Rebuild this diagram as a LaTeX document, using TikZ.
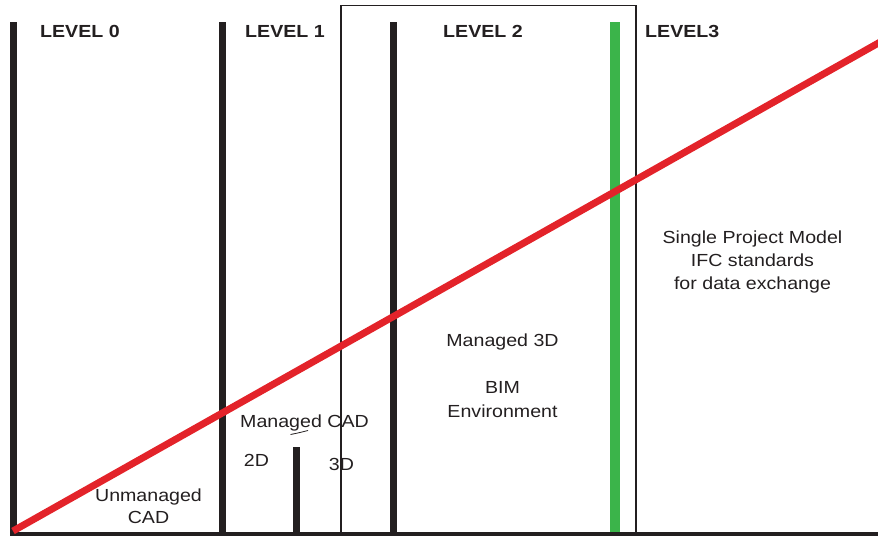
\documentclass[tikz,border=0pt]{standalone}
\usepackage{fontspec}
\setmainfont[FakeStretch=1.12]{Liberation Sans}
\definecolor{barblack}{HTML}{231F20}
\definecolor{bimred}{HTML}{E3232A}
\definecolor{bimgreen}{HTML}{3BB44A}
\begin{document}
\begin{tikzpicture}[x=1pt,y=-1pt,
  bar/.style={draw=barblack,line width=7pt},
  lbl/.style={inner sep=0pt,anchor=base,font=\fontsize{17.5}{23}\selectfont,text=barblack},
  lvl/.style={inner sep=0pt,anchor=base west,font=\fontsize{17.5}{23}\selectfont\bfseries,text=barblack}]
\useasboundingbox (0,0) rectangle (878,536);
% level bars
\draw[bar] (13.5,22) -- (13.5,534);
\draw[bar] (222.5,22) -- (222.5,534);
\draw[bar] (393,22) -- (393,534);
\draw[bar] (296.5,447) -- (296.5,534);
\draw[draw=bimgreen,line width=10pt] (615,22) -- (615,534);
% level 2 frame
\draw[barblack,line width=1.3pt] (341,534) -- (341,5.5) -- (636,5.5) -- (636,534);
% baseline
\draw[barblack,line width=4pt] (10,534) -- (878,534);
% maturity line
\draw[bimred,line width=7pt] (13,531) -- (882,41);
% squiggle
\draw[barblack,line width=0.8pt] (290.5,434.5) .. controls (298,433) .. (308,430.5);
% level labels
\node[lvl] (l0) at (40,37) {LEVEL 0};
\node[lvl] (l1) at (245,37) {LEVEL 1};
\node[lvl] (l2) at (443,37) {LEVEL 2};
\node[lvl] (l3) at (645,37) {LEVEL3};
% texts
\node[lbl] (u1) at (148.5,501) {Unmanaged};
\node[lbl] (u2) at (148.5,523) {CAD};
\node[lbl] (mc) at (304.5,427) {Managed CAD};
\node[lbl] (d2) at (256.5,466) {2D};
\node[lbl] (d3) at (341.5,470) {3D};
\node[lbl] (m3) at (502.5,346) {Managed 3D};
\node[lbl] (bim) at (502.5,393) {BIM};
\node[lbl] (env) at (502.5,417) {Environment};
\node[lbl] (s1) at (752.5,243) {Single Project Model};
\node[lbl] (s2) at (752.5,266) {IFC standards};
\node[lbl] (s3) at (752.5,289) {for data exchange};
\end{tikzpicture}
\end{document}
